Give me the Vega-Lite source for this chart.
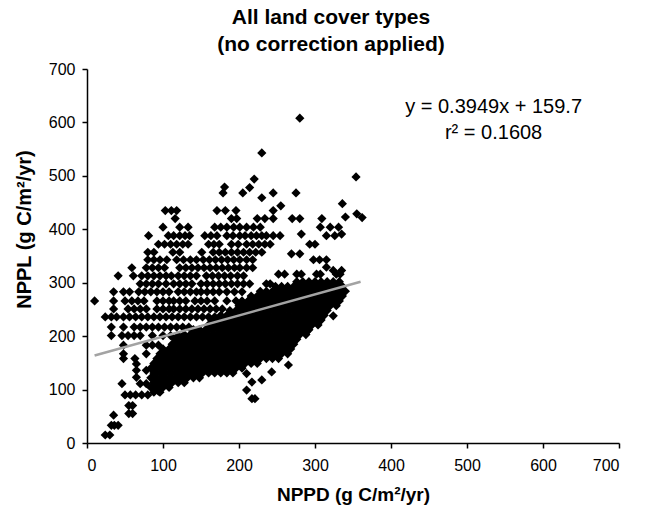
{
  "$schema": "https://vega.github.io/schema/vega-lite/v6.json",
  "width": 532,
  "height": 374,
  "autosize": {"type": "none"},
  "padding": {"left": 87, "top": 69, "right": 26, "bottom": 73},
  "background": "white",
  "title": {
    "text": ["All land cover types", "(no correction applied)"],
    "font": "Liberation Sans",
    "fontSize": 21,
    "fontWeight": "bold",
    "color": "black",
    "lineHeight": 27,
    "anchor": "middle",
    "dx": -22,
    "offset": 6
  },
  "config": {
    "view": {"stroke": null},
    "axis": {
      "grid": false,
      "domainColor": "black",
      "domainWidth": 1.5,
      "tickColor": "black",
      "tickWidth": 1.5,
      "tickSize": 5,
      "labelFont": "Liberation Sans",
      "labelFontSize": 16,
      "labelColor": "black",
      "titleFont": "Liberation Sans",
      "titleFontWeight": "bold",
      "titleColor": "black"
    }
  },
  "datasets": {
    "pts": [
      {"d":280,"l":608},{"d":230,"l":543},{"d":220,"l":494},{"d":354,"l":498},{"d":181,"l":479},{"d":214,"l":478},{"d":179,"l":468},{"d":205,"l":468},{"d":245,"l":468},{"d":275,"l":468},{"d":230,"l":459},{"d":255,"l":444},{"d":336,"l":448},
      {"d":103,"l":435},{"d":111,"l":435},{"d":118,"l":435},{"d":171,"l":435},{"d":182,"l":435},{"d":196,"l":435},{"d":245,"l":435},{"d":355,"l":429},{"d":362,"l":422},{"d":340,"l":423},
      {"d":116,"l":420},{"d":190,"l":420},{"d":197,"l":420},{"d":224,"l":420},{"d":234,"l":420},{"d":245,"l":420},{"d":270,"l":420},{"d":280,"l":420},{"d":309,"l":420},
      {"d":100,"l":404},{"d":122,"l":404},{"d":133,"l":404},{"d":168,"l":404},{"d":176,"l":404},{"d":184,"l":404},{"d":193,"l":404},{"d":201,"l":404},{"d":210,"l":404},{"d":219,"l":404},{"d":228,"l":404},{"d":307,"l":404},{"d":320,"l":404},{"d":331,"l":404},
      {"d":81,"l":388},{"d":107,"l":388},{"d":114,"l":388},{"d":122,"l":388},{"d":129,"l":388},{"d":135,"l":388},{"d":155,"l":388},{"d":163,"l":388},{"d":171,"l":388},{"d":184,"l":388},{"d":192,"l":388},{"d":201,"l":388},{"d":208,"l":388},{"d":216,"l":388},{"d":223,"l":388},{"d":230,"l":388},{"d":236,"l":388},{"d":245,"l":388},{"d":254,"l":388},{"d":282,"l":391},{"d":315,"l":388},{"d":326,"l":388},{"d":335,"l":391},
      {"d":94,"l":372},{"d":102,"l":372},{"d":110,"l":372},{"d":118,"l":372},{"d":126,"l":372},{"d":133,"l":372},{"d":160,"l":372},{"d":167,"l":372},{"d":174,"l":372},{"d":190,"l":372},{"d":199,"l":372},{"d":210,"l":372},{"d":218,"l":372},{"d":226,"l":372},{"d":234,"l":372},{"d":241,"l":372},{"d":293,"l":372},{"d":300,"l":372},
      {"d":80,"l":357},{"d":88,"l":357},{"d":113,"l":357},{"d":122,"l":357},{"d":151,"l":357},{"d":166,"l":357},{"d":174,"l":357},{"d":182,"l":357},{"d":190,"l":357},{"d":198,"l":357},{"d":206,"l":357},{"d":214,"l":357},{"d":222,"l":357},{"d":230,"l":357},{"d":269,"l":354},{"d":280,"l":354},
      {"d":80,"l":343},{"d":88,"l":343},{"d":96,"l":343},{"d":105,"l":343},{"d":118,"l":343},{"d":127,"l":343},{"d":136,"l":343},{"d":144,"l":343},{"d":153,"l":343},{"d":161,"l":343},{"d":169,"l":343},{"d":177,"l":343},{"d":185,"l":343},{"d":193,"l":343},{"d":201,"l":343},{"d":210,"l":343},{"d":218,"l":343},{"d":298,"l":343},{"d":306,"l":343},{"d":315,"l":343},
      {"d":59,"l":328},{"d":78,"l":328},{"d":86,"l":328},{"d":94,"l":328},{"d":102,"l":328},{"d":122,"l":328},{"d":130,"l":328},{"d":138,"l":328},{"d":146,"l":328},{"d":154,"l":328},{"d":162,"l":328},{"d":170,"l":328},{"d":178,"l":328},{"d":186,"l":328},{"d":194,"l":328},{"d":201,"l":328},{"d":210,"l":328},{"d":218,"l":328},{"d":315,"l":329},{"d":324,"l":323},{"d":335,"l":323},
      {"d":252,"l":316},{"d":260,"l":316},{"d":276,"l":316},{"d":282,"l":316},{"d":302,"l":316},{"d":307,"l":316},{"d":328,"l":316},{"d":333,"l":316},
      {"d":41,"l":313},{"d":61,"l":313},{"d":72,"l":313},{"d":80,"l":313},{"d":88,"l":313},{"d":96,"l":313},{"d":104,"l":313},{"d":111,"l":313},{"d":120,"l":313},{"d":128,"l":313},{"d":136,"l":313},{"d":144,"l":313},{"d":157,"l":313},{"d":165,"l":313},{"d":173,"l":313},{"d":181,"l":313},{"d":189,"l":313},{"d":198,"l":313},{"d":206,"l":313},
      {"d":70,"l":298},{"d":78,"l":298},{"d":86,"l":298},{"d":94,"l":298},{"d":104,"l":298},{"d":114,"l":298},{"d":122,"l":298},{"d":130,"l":298},{"d":138,"l":298},{"d":150,"l":298},{"d":158,"l":298},{"d":166,"l":298},{"d":174,"l":298},{"d":182,"l":298},{"d":190,"l":298},{"d":198,"l":298},{"d":206,"l":298},{"d":214,"l":298},{"d":236,"l":298},{"d":241,"l":298},
      {"d":35,"l":283},{"d":48,"l":283},{"d":56,"l":283},{"d":68,"l":283},{"d":76,"l":283},{"d":84,"l":283},{"d":92,"l":283},{"d":100,"l":283},{"d":108,"l":283},{"d":120,"l":283},{"d":128,"l":283},{"d":136,"l":283},{"d":144,"l":283},{"d":150,"l":283},{"d":158,"l":283},{"d":166,"l":283},{"d":174,"l":283},{"d":184,"l":283},{"d":194,"l":283},{"d":204,"l":283},
      {"d":10,"l":266},{"d":35,"l":266},{"d":50,"l":266},{"d":59,"l":266},{"d":67,"l":266},{"d":75,"l":266},{"d":92,"l":266},{"d":100,"l":266},{"d":108,"l":266},{"d":114,"l":266},{"d":122,"l":266},{"d":130,"l":266},{"d":142,"l":266},{"d":150,"l":266},{"d":158,"l":266},{"d":168,"l":266},{"d":184,"l":266},{"d":196,"l":266},
      {"d":35,"l":251},{"d":54,"l":251},{"d":62,"l":251},{"d":70,"l":251},{"d":78,"l":251},{"d":92,"l":251},{"d":100,"l":251},{"d":108,"l":251},{"d":114,"l":251},{"d":122,"l":251},{"d":130,"l":251},{"d":138,"l":251},{"d":146,"l":251},{"d":154,"l":251},{"d":162,"l":251},{"d":170,"l":251},{"d":178,"l":251},
      {"d":24,"l":236},{"d":32,"l":236},{"d":39,"l":236},{"d":48,"l":236},{"d":56,"l":236},{"d":64,"l":236},{"d":72,"l":236},{"d":80,"l":236},{"d":88,"l":236},{"d":96,"l":236},{"d":104,"l":236},{"d":112,"l":236},{"d":120,"l":236},{"d":128,"l":236},{"d":136,"l":236},{"d":144,"l":236},{"d":152,"l":236},{"d":160,"l":236},{"d":168,"l":236},
      {"d":32,"l":217},{"d":48,"l":217},{"d":62,"l":217},{"d":70,"l":217},{"d":78,"l":217},{"d":86,"l":217},{"d":94,"l":217},{"d":102,"l":217},{"d":110,"l":217},{"d":118,"l":217},{"d":126,"l":217},{"d":134,"l":217},
      {"d":32,"l":201},{"d":46,"l":201},{"d":54,"l":201},{"d":62,"l":201},{"d":70,"l":201},{"d":86,"l":201},{"d":100,"l":201},{"d":110,"l":201},{"d":120,"l":201},
      {"d":48,"l":183},{"d":78,"l":183},{"d":86,"l":183},{"d":94,"l":183},
      {"d":48,"l":167},{"d":78,"l":167},{"d":48,"l":158},{"d":63,"l":158},{"d":65,"l":148},{"d":65,"l":136},{"d":78,"l":136},{"d":65,"l":123},{"d":46,"l":111},{"d":70,"l":111},{"d":78,"l":111},{"d":94,"l":97},
      {"d":50,"l":90},{"d":57,"l":90},{"d":64,"l":90},{"d":72,"l":90},{"d":80,"l":90},
      {"d":55,"l":70},{"d":60,"l":70},{"d":55,"l":55},{"d":60,"l":55},{"d":35,"l":52},
      {"d":32,"l":33},{"d":36,"l":33},{"d":41,"l":33},{"d":24,"l":15},{"d":30,"l":15},
      {"d":210,"l":130},{"d":217,"l":114},{"d":230,"l":118},{"d":210,"l":99},{"d":217,"l":83},{"d":221,"l":83},{"d":243,"l":133},{"d":265,"l":146},{"d":289,"l":208},{"d":324,"l":238},
      {"d":88,"l":95},{"d":96,"l":95},
      {"d":84,"l":104},{"d":92,"l":104},{"d":100,"l":104},{"d":108,"l":104},
      {"d":88,"l":113},{"d":96,"l":113},{"d":104,"l":113},{"d":112,"l":113},{"d":120,"l":113},{"d":128,"l":113},
      {"d":84,"l":122},{"d":92,"l":122},{"d":100,"l":122},{"d":108,"l":122},{"d":116,"l":122},{"d":124,"l":122},{"d":132,"l":122},{"d":140,"l":122},{"d":148,"l":122},
      {"d":88,"l":131},{"d":96,"l":131},{"d":104,"l":131},{"d":112,"l":131},{"d":120,"l":131},{"d":128,"l":131},{"d":136,"l":131},{"d":144,"l":131},{"d":152,"l":131},{"d":160,"l":131},{"d":168,"l":131},{"d":176,"l":131},{"d":184,"l":131},{"d":192,"l":131},
      {"d":84,"l":140},{"d":92,"l":140},{"d":100,"l":140},{"d":108,"l":140},{"d":116,"l":140},{"d":124,"l":140},{"d":132,"l":140},{"d":140,"l":140},{"d":148,"l":140},{"d":156,"l":140},{"d":164,"l":140},{"d":172,"l":140},{"d":180,"l":140},{"d":188,"l":140},{"d":196,"l":140},{"d":204,"l":140},
      {"d":88,"l":149},{"d":96,"l":149},{"d":104,"l":149},{"d":112,"l":149},{"d":120,"l":149},{"d":128,"l":149},{"d":136,"l":149},{"d":144,"l":149},{"d":152,"l":149},{"d":160,"l":149},{"d":168,"l":149},{"d":176,"l":149},{"d":184,"l":149},{"d":192,"l":149},{"d":200,"l":149},{"d":208,"l":149},{"d":216,"l":149},{"d":224,"l":149},
      {"d":92,"l":158},{"d":100,"l":158},{"d":108,"l":158},{"d":116,"l":158},{"d":124,"l":158},{"d":132,"l":158},{"d":140,"l":158},{"d":148,"l":158},{"d":156,"l":158},{"d":164,"l":158},{"d":172,"l":158},{"d":180,"l":158},{"d":188,"l":158},{"d":196,"l":158},{"d":204,"l":158},{"d":212,"l":158},{"d":220,"l":158},{"d":228,"l":158},{"d":236,"l":158},{"d":244,"l":158},{"d":252,"l":158},
      {"d":96,"l":167},{"d":104,"l":167},{"d":112,"l":167},{"d":120,"l":167},{"d":128,"l":167},{"d":136,"l":167},{"d":144,"l":167},{"d":152,"l":167},{"d":160,"l":167},{"d":168,"l":167},{"d":176,"l":167},{"d":184,"l":167},{"d":192,"l":167},{"d":200,"l":167},{"d":208,"l":167},{"d":216,"l":167},{"d":224,"l":167},{"d":232,"l":167},{"d":240,"l":167},{"d":248,"l":167},{"d":256,"l":167},{"d":264,"l":167},
      {"d":100,"l":176},{"d":108,"l":176},{"d":116,"l":176},{"d":124,"l":176},{"d":132,"l":176},{"d":140,"l":176},{"d":148,"l":176},{"d":156,"l":176},{"d":164,"l":176},{"d":172,"l":176},{"d":180,"l":176},{"d":188,"l":176},{"d":196,"l":176},{"d":204,"l":176},{"d":212,"l":176},{"d":220,"l":176},{"d":228,"l":176},{"d":236,"l":176},{"d":244,"l":176},{"d":252,"l":176},{"d":260,"l":176},{"d":268,"l":176},
      {"d":112,"l":185},{"d":120,"l":185},{"d":128,"l":185},{"d":136,"l":185},{"d":144,"l":185},{"d":152,"l":185},{"d":160,"l":185},{"d":168,"l":185},{"d":176,"l":185},{"d":184,"l":185},{"d":192,"l":185},{"d":200,"l":185},{"d":208,"l":185},{"d":216,"l":185},{"d":224,"l":185},{"d":232,"l":185},{"d":240,"l":185},{"d":248,"l":185},{"d":256,"l":185},{"d":264,"l":185},{"d":272,"l":185},
      {"d":116,"l":194},{"d":124,"l":194},{"d":132,"l":194},{"d":140,"l":194},{"d":148,"l":194},{"d":156,"l":194},{"d":164,"l":194},{"d":172,"l":194},{"d":180,"l":194},{"d":188,"l":194},{"d":196,"l":194},{"d":204,"l":194},{"d":212,"l":194},{"d":220,"l":194},{"d":228,"l":194},{"d":236,"l":194},{"d":244,"l":194},{"d":252,"l":194},{"d":260,"l":194},{"d":268,"l":194},{"d":276,"l":194},
      {"d":128,"l":203},{"d":136,"l":203},{"d":144,"l":203},{"d":152,"l":203},{"d":160,"l":203},{"d":168,"l":203},{"d":176,"l":203},{"d":184,"l":203},{"d":192,"l":203},{"d":200,"l":203},{"d":208,"l":203},{"d":216,"l":203},{"d":224,"l":203},{"d":232,"l":203},{"d":240,"l":203},{"d":248,"l":203},{"d":256,"l":203},{"d":264,"l":203},{"d":272,"l":203},{"d":280,"l":203},{"d":288,"l":203},
      {"d":140,"l":212},{"d":148,"l":212},{"d":156,"l":212},{"d":164,"l":212},{"d":172,"l":212},{"d":180,"l":212},{"d":188,"l":212},{"d":196,"l":212},{"d":204,"l":212},{"d":212,"l":212},{"d":220,"l":212},{"d":228,"l":212},{"d":236,"l":212},{"d":244,"l":212},{"d":252,"l":212},{"d":260,"l":212},{"d":268,"l":212},{"d":276,"l":212},{"d":284,"l":212},{"d":292,"l":212},
      {"d":160,"l":221},{"d":168,"l":221},{"d":176,"l":221},{"d":184,"l":221},{"d":192,"l":221},{"d":200,"l":221},{"d":208,"l":221},{"d":216,"l":221},{"d":224,"l":221},{"d":232,"l":221},{"d":240,"l":221},{"d":248,"l":221},{"d":256,"l":221},{"d":264,"l":221},{"d":272,"l":221},{"d":280,"l":221},{"d":288,"l":221},{"d":296,"l":221},{"d":304,"l":221},
      {"d":164,"l":230},{"d":172,"l":230},{"d":180,"l":230},{"d":188,"l":230},{"d":196,"l":230},{"d":204,"l":230},{"d":212,"l":230},{"d":220,"l":230},{"d":228,"l":230},{"d":236,"l":230},{"d":244,"l":230},{"d":252,"l":230},{"d":260,"l":230},{"d":268,"l":230},{"d":276,"l":230},{"d":284,"l":230},{"d":292,"l":230},{"d":300,"l":230},{"d":308,"l":230},
      {"d":176,"l":239},{"d":184,"l":239},{"d":192,"l":239},{"d":200,"l":239},{"d":208,"l":239},{"d":216,"l":239},{"d":224,"l":239},{"d":232,"l":239},{"d":240,"l":239},{"d":248,"l":239},{"d":256,"l":239},{"d":264,"l":239},{"d":272,"l":239},{"d":280,"l":239},{"d":288,"l":239},{"d":296,"l":239},{"d":304,"l":239},{"d":312,"l":239},
      {"d":188,"l":248},{"d":196,"l":248},{"d":204,"l":248},{"d":212,"l":248},{"d":220,"l":248},{"d":228,"l":248},{"d":236,"l":248},{"d":244,"l":248},{"d":252,"l":248},{"d":260,"l":248},{"d":268,"l":248},{"d":276,"l":248},{"d":284,"l":248},{"d":292,"l":248},{"d":300,"l":248},{"d":308,"l":248},{"d":316,"l":248},
      {"d":200,"l":257},{"d":208,"l":257},{"d":216,"l":257},{"d":224,"l":257},{"d":232,"l":257},{"d":240,"l":257},{"d":248,"l":257},{"d":256,"l":257},{"d":264,"l":257},{"d":272,"l":257},{"d":280,"l":257},{"d":288,"l":257},{"d":296,"l":257},{"d":304,"l":257},{"d":312,"l":257},{"d":320,"l":257},{"d":328,"l":257},
      {"d":204,"l":266},{"d":212,"l":266},{"d":220,"l":266},{"d":228,"l":266},{"d":236,"l":266},{"d":244,"l":266},{"d":252,"l":266},{"d":260,"l":266},{"d":268,"l":266},{"d":276,"l":266},{"d":284,"l":266},{"d":292,"l":266},{"d":300,"l":266},{"d":308,"l":266},{"d":316,"l":266},{"d":324,"l":266},{"d":332,"l":266},
      {"d":216,"l":275},{"d":224,"l":275},{"d":232,"l":275},{"d":240,"l":275},{"d":248,"l":275},{"d":256,"l":275},{"d":264,"l":275},{"d":272,"l":275},{"d":280,"l":275},{"d":288,"l":275},{"d":296,"l":275},{"d":304,"l":275},{"d":312,"l":275},{"d":320,"l":275},{"d":328,"l":275},{"d":336,"l":275},
      {"d":228,"l":284},{"d":236,"l":284},{"d":244,"l":284},{"d":252,"l":284},{"d":260,"l":284},{"d":268,"l":284},{"d":276,"l":284},{"d":284,"l":284},{"d":292,"l":284},{"d":300,"l":284},{"d":308,"l":284},{"d":316,"l":284},{"d":324,"l":284},{"d":332,"l":284},{"d":340,"l":284},
      {"d":248,"l":293},{"d":256,"l":293},{"d":264,"l":293},{"d":272,"l":293},{"d":280,"l":293},{"d":288,"l":293},{"d":296,"l":293},{"d":304,"l":293},{"d":312,"l":293},{"d":320,"l":293},{"d":328,"l":293},{"d":336,"l":293},
      {"d":276,"l":302},{"d":284,"l":302},{"d":292,"l":302},{"d":300,"l":302},{"d":308,"l":302},{"d":316,"l":302},{"d":324,"l":302},{"d":332,"l":302}
    ],
    "fit": [{"d": 10, "l": 163.65}, {"d": 360, "l": 301.86}],
    "note": [
      {"d": 535, "l": 629, "t": "y = 0.3949x + 159.7"},
      {"d": 535, "l": 580, "t": "r² = 0.1608"}
    ]
  },
  "encoding": {
    "x": {
      "field": "d",
      "type": "quantitative",
      "scale": {"domain": [0, 700], "nice": false},
      "axis": {
        "title": "NPPD (g C/m²/yr)",
        "titleFontSize": 19,
        "values": [0, 100, 200, 300, 400, 500, 600, 700],
        "labelPadding": 9,
        "titlePadding": 12
      }
    },
    "y": {
      "field": "l",
      "type": "quantitative",
      "scale": {"domain": [0, 700], "nice": false},
      "axis": {
        "title": "NPPL (g C/m²/yr)",
        "titleFontSize": 20,
        "values": [0, 100, 200, 300, 400, 500, 600, 700],
        "labelPadding": 7,
        "titlePadding": 14,
        "titleY": 160
      }
    }
  },
  "layer": [
    {
      "data": {"name": "pts"},
      "mark": {"type": "point", "shape": "diamond", "filled": true, "color": "black", "opacity": 1, "size": 85, "strokeWidth": 0}
    },
    {
      "data": {"name": "fit"},
      "mark": {"type": "line", "color": "#a3a3a3", "strokeWidth": 2.5}
    },
    {
      "data": {"name": "note"},
      "mark": {"type": "text", "font": "Liberation Sans", "fontSize": 20, "color": "black", "align": "center", "baseline": "middle"},
      "encoding": {"text": {"field": "t", "type": "nominal"}}
    }
  ]
}
